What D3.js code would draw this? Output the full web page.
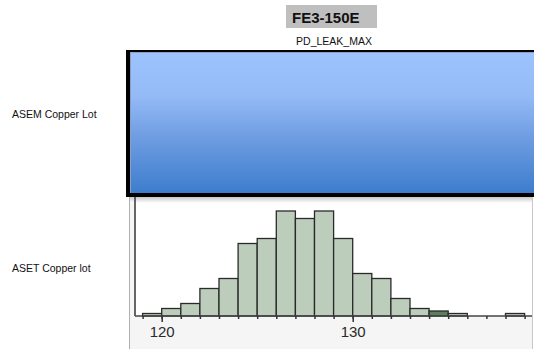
<!DOCTYPE html>
<html>
<head>
<meta charset="utf-8">
<script src="https://cdn.jsdelivr.net/npm/d3@7"></script>
<style>
  body { margin: 0; background: #fff; overflow: hidden; }
  svg { display: block; }
</style>
</head>
<body>
<svg id="chart"></svg>
<script>
//////////////// Daten ////////////////////
const chartTitle = "FE3-150E",
  variableName = "PD_LEAK_MAX";
const rowLabels = ["ASEM Copper Lot", "ASET Copper lot"];
// Histogramm: linke Klassengrenze, Breite 1
const binStarts = [119, 120, 121, 122, 123, 124, 125, 126, 127, 128, 129, 130, 131, 132, 133, 134, 135, 136, 137, 138];
const binCounts = [1, 3, 5, 11, 15, 29, 31, 42, 39, 42, 31, 17, 15, 7, 3, 2, 1, 0, 0, 1];
const highlightBin = 134; // dunkler markierte Klasse
const majorTicks = [120, 130];

//////////////// Konstanten ////////////////////
const width = 534, height = 349;
const topPanel = {x: 126, y: 50, right: 534, bottom: 197},
  plot = {left: 135, right: 532, top: 197, bottom: 316};

const svg = d3.select("#chart")
  .attr("width", width)
  .attr("height", height);

const defs = svg.append("defs");
const grad = defs.append("linearGradient")
  .attr("id", "blueGrad")
  .attr("x1", 0).attr("y1", 0).attr("x2", 0).attr("y2", 1);
[["0%", "#9dc3ff"], ["30%", "#95bbf7"], ["60%", "#6f9de2"], ["100%", "#3d7dcd"]]
  .forEach(function(s){ grad.append("stop").attr("offset", s[0]).attr("stop-color", s[1]); });
const shade = defs.append("linearGradient")
  .attr("id", "shadeGrad")
  .attr("x1", 0).attr("y1", 0).attr("x2", 0).attr("y2", 1);
shade.append("stop").attr("offset", "0%").attr("stop-color", "#c8c8c8");
shade.append("stop").attr("offset", "100%").attr("stop-color", "#ffffff");

//////////////// Titel ////////////////////
svg.append("rect")
  .attr("x", 286).attr("y", 5)
  .attr("width", 91).attr("height", 23)
  .attr("fill", "#bfbfbf");
svg.append("text")
  .attr("x", 292).attr("y", 22.5)
  .attr("font-family", "Liberation Sans, Arial, sans-serif")
  .attr("font-weight", "bold")
  .attr("font-size", 15)
  .attr("fill", "#111")
  .text(chartTitle);
svg.append("text")
  .attr("x", 334).attr("y", 44.5)
  .attr("text-anchor", "middle")
  .attr("font-family", "Liberation Sans, Arial, sans-serif")
  .attr("font-size", 10.5)
  .attr("fill", "#111")
  .text(variableName);

//////////////// Zeilenbeschriftung ////////////////////
svg.selectAll("text.row")
  .data(rowLabels)
  .enter()
  .append("text")
  .attr("class", "row")
  .attr("x", 12)
  .attr("y", function(d, i){ return i === 0 ? 118 : 272; })
  .attr("font-family", "Liberation Sans, Arial, sans-serif")
  .attr("font-size", 10.5)
  .attr("fill", "#111")
  .text(function(d){ return d; });

//////////////// oberes Feld (ASEM) ////////////////////
// Rahmen oben, links, unten als ein Pfad
svg.append("path")
  .attr("d", "M" + topPanel.right + "," + topPanel.y + "H" + topPanel.x + "V" + topPanel.bottom + "H" + topPanel.right + "V193H130V52H" + topPanel.right + "Z")
  .attr("fill", "#000");
svg.append("rect")
  .attr("x", 130).attr("y", 52)
  .attr("width", topPanel.right - 130)
  .attr("height", 141)
  .attr("fill", "#8aa0c0");
svg.append("rect")
  .attr("x", 131).attr("y", 53)
  .attr("width", topPanel.right - 131)
  .attr("height", 140)
  .attr("fill", "url(#blueGrad)");

//////////////// unteres Feld (ASET) ////////////////////
svg.append("rect")
  .attr("x", 129).attr("y", plot.top)
  .attr("width", plot.right - 129)
  .attr("height", height - plot.top)
  .attr("fill", "#f5f5f5");
svg.append("line")
  .attr("x1", 129.5).attr("x2", 129.5)
  .attr("y1", plot.top).attr("y2", height)
  .attr("stroke", "#b0b0b0");
svg.append("line")
  .attr("x1", plot.right + 0.5).attr("x2", plot.right + 0.5)
  .attr("y1", plot.top).attr("y2", height)
  .attr("stroke", "#c8c8c8");
svg.append("rect")
  .attr("x", plot.left).attr("y", plot.top)
  .attr("width", plot.right - plot.left)
  .attr("height", plot.bottom - plot.top)
  .attr("fill", "#fff");
svg.append("rect")
  .attr("x", 130).attr("y", plot.top)
  .attr("width", plot.right - 130)
  .attr("height", 6)
  .attr("fill", "url(#shadeGrad)");

const xScale = d3.scaleLinear()
  .domain([120, 130])
  .range([161.7, 352.7]);
const yScale = d3.scaleLinear()
  .domain([0, 48])
  .range([plot.bottom, plot.bottom - 120]);

const bins = binStarts.map(function(s, i){ return {x0: s, x1: s + 1, n: binCounts[i]}; });

svg.append("g").attr("class", "bars")
  .selectAll("rect")
  .data(bins.filter(function(d){ return d.n > 0; }))
  .enter()
  .append("rect")
  .attr("x", function(d){ return xScale(d.x0); })
  .attr("y", function(d){ return yScale(d.n); })
  .attr("width", function(d){ return xScale(d.x1) - xScale(d.x0); })
  .attr("height", function(d){ return yScale(0) - yScale(d.n); })
  .attr("fill", function(d){ return d.x0 === highlightBin ? "#5b7f5e" : "#bccdbc"; })
  .attr("stroke", "#2a2a2a")
  .attr("stroke-width", 1.3);

// Achsen
svg.append("line")
  .attr("x1", plot.left).attr("x2", plot.left)
  .attr("y1", plot.top).attr("y2", plot.bottom)
  .attr("stroke", "#333").attr("stroke-width", 1.5);

const edges = d3.range(119, 140);
const xAxis = d3.axisBottom(xScale)
  .tickValues(edges)
  .tickSize(3)
  .tickFormat("");
const gx = svg.append("g")
  .attr("transform", "translate(0," + plot.bottom + ")")
  .call(xAxis);
gx.select(".domain")
  .attr("d", "M" + plot.left + ",0H" + plot.right)
  .attr("stroke", "#444").attr("stroke-width", 1.5);
gx.selectAll(".tick line").attr("stroke", "#333").attr("stroke-width", 1.5);

const xMajor = d3.axisBottom(xScale)
  .tickValues(majorTicks)
  .tickSize(6)
  .tickPadding(4)
  .tickFormat(d3.format("d"));
const gm = svg.append("g")
  .attr("transform", "translate(0," + plot.bottom + ")")
  .call(xMajor);
gm.select(".domain").remove();
gm.selectAll(".tick line").attr("stroke", "#333").attr("stroke-width", 1.5);
gm.selectAll(".tick text")
  .attr("font-family", "Liberation Sans, Arial, sans-serif")
  .attr("font-size", 15)
  .attr("fill", "#2a2a2a");
</script>
</body>
</html>
